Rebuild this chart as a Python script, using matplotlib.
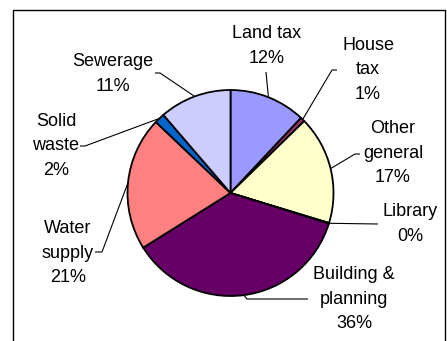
import numpy as np
import matplotlib
matplotlib.use("Agg")
import matplotlib.pyplot as plt

# ---- data ----
categories = ["Land tax", "House tax", "Other general", "Library",
              "Building & planning", "Water supply", "Solid waste", "Sewerage"]
values = [12.0, 0.7, 17.0, 0.1, 36.3, 21.0, 1.6, 11.3]
pct_labels = ["12%", "1%", "17%", "0%", "36%", "21%", "2%", "11%"]
label_text = ["Land tax", "House\ntax", "Other\ngeneral", "Library",
              "Building &\nplanning", "Water\nsupply", "Solid\nwaste", "Sewerage"]

# ---- style / layout ----
colors = ["#9999FF", "#993366", "#FFFFCC", "#CCFFFF",
          "#660066", "#FF8080", "#0066CC", "#CCCCFF"]
text_pos = [(267, 46), (368, 70), (393, 153), (410, 224),
            (354, 299), (68, 253), (56, 146), (113, 74)]
leader_pts = [[(266, 72)], [(337, 70), (332, 70)], [(360, 154), (355, 154)],
              [(378, 224)], [(308, 299), (247, 299)], [(95, 252), (102, 252)],
              [(80, 146), (85, 146)], [(155, 73), (160, 73)]]

plt.rcParams['font.family'] = ['Liberation Sans', 'DejaVu Sans']

W, H = 447, 341
fig = plt.figure(figsize=(W / 100, H / 100), dpi=100)
ax = fig.add_axes([0, 0, 1, 1])

cx, cy, r = 230.5, 193, 103


wedges, _ = ax.pie(values, colors=colors, startangle=90, counterclock=False,
                   center=(cx, H - cy), radius=r,
                   wedgeprops=dict(edgecolor='black', linewidth=1.3))
ax.set_xlim(0, W)
ax.set_ylim(0, H)
ax.set_aspect('auto')
ax.axis('off')

# labels and leader lines
total = sum(values)
cum = 0
for i, v in enumerate(values):
    mid = (cum + v / 2) / total * 360.0
    cum += v
    ang = np.deg2rad(mid)
    ax_pt = (cx + r * np.sin(ang), cy - r * np.cos(ang))
    pts = leader_pts[i] + [ax_pt]
    xs = [p[0] for p in pts]
    ys = [H - p[1] for p in pts]
    ax.plot(xs, ys, color='black', lw=0.8, solid_capstyle='butt')
    tx, ty = text_pos[i]
    ax.text(tx, H - ty, label_text[i] + "\n" + pct_labels[i], ha='center',
            va='center', fontsize=13, color='black', linespacing=1.55)

# chart-area frame
ax.plot([13, 13, 445, 445], [-5, H - 10, H - 10, -5], color='black', lw=1.0,
        clip_on=False)

fig.savefig("out.png", dpi=100)
